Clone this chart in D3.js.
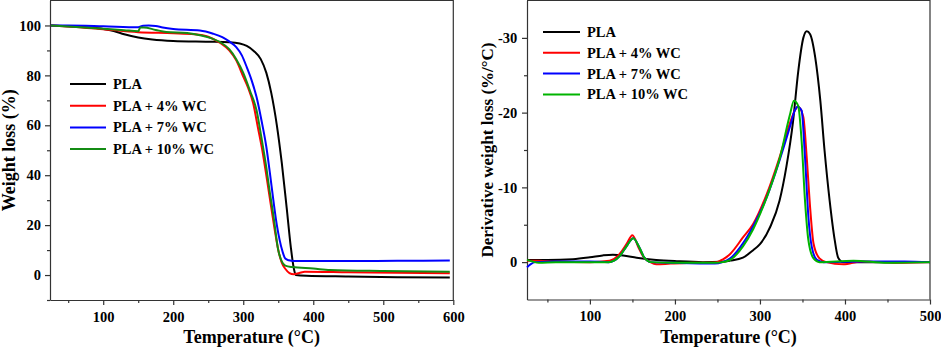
<!DOCTYPE html>
<html>
<head>
<meta charset="utf-8">
<script src="https://cdn.jsdelivr.net/npm/d3@7"></script>
<style>
  body { margin: 0; background: #fff; }
  svg text { font-family: "Liberation Serif", "Times New Roman", serif; font-weight: bold; }
</style>
</head>
<body>
<div id="chart"></div>
<script>
// series names and colours
var seriesNames = ["PLA", "PLA + 4% WC", "PLA + 7% WC", "PLA + 10% WC"];
var tgaColors = ["#000000", "#ff0000", "#0000ff", "#148c14"];
var dtgColors = ["#000000", "#ff0000", "#0000ff", "#00b400"];

// TGA: temperature (°C) and weight loss (%)
var tgaPLA_T = [25, 50, 80, 100, 115, 130, 150, 170, 200, 250, 280, 295, 305, 315, 325, 333, 340, 348, 355, 362, 368, 372, 375, 390, 450, 520, 595];
var tgaPLA_W = [100, 99.7, 99.2, 98.6, 97.8, 96.5, 95.2, 94.4, 93.8, 93.5, 93.3, 92.8, 91.8, 89.8, 86.5, 81, 73, 60, 45, 27, 11, 3, 0, -0.3, -0.6, -0.9, -1];

var tga4_T = [25, 50, 100, 150, 200, 230, 250, 267, 280, 290, 300, 307, 314, 321, 328, 334, 340, 345, 350, 355, 360, 366, 372, 380, 388, 450, 520, 595];
var tga4_W = [100, 99.6, 98.5, 97.3, 96.9, 96.5, 95.5, 93, 90, 86, 79.5, 75, 69, 59, 48.7, 38, 27, 18, 10, 5, 2.5, 0.8, 0.3, 0.8, 1.3, 1.1, 0.9, 0.7];

var tga7_T = [25, 50, 100, 150, 157, 165, 175, 185, 200, 238, 257, 270, 280, 290, 298, 305, 312, 319, 326, 333, 338, 343, 348, 352, 356, 360, 365, 372, 450, 520, 595];
var tga7_W = [100, 100, 99.7, 99.3, 99.9, 100, 99.8, 99.2, 98.6, 98, 96.7, 95.3, 93.6, 91.3, 88, 83.3, 78, 71.3, 62, 51.3, 41, 30, 20, 14, 9.5, 6.6, 5.9, 5.6, 5.6, 5.7, 5.8];

var tga10_T = [25, 50, 100, 130, 150, 153, 158, 175, 190, 220, 240, 255, 267, 280, 290, 300, 310, 319, 326, 333, 338, 343, 350, 355, 360, 370, 400, 424, 500, 595];
var tga10_W = [100, 99.6, 98.7, 98.1, 97.7, 99.2, 99.2, 98.2, 97.4, 97, 96, 94.8, 93.3, 90.5, 86.5, 81, 73.5, 66, 55, 43, 33, 24, 10, 5.5, 3.8, 3.2, 2.6, 2, 1.6, 1.3];

// DTG: temperature (°C) and derivative weight loss (%/°C)
var dtgPLA_T = [26, 50, 80, 100, 115, 127, 139, 155, 178, 202, 233, 255, 265, 280, 292, 300, 312, 323, 331, 339, 345, 351, 355, 359, 365, 371, 376, 382, 388, 392, 398, 420, 460, 500];
var dtgPLA_D = [-0.3, -0.3, -0.4, -0.65, -0.9, -1.0, -0.9, -0.6, -0.3, -0.13, 0, -0.05, -0.2, -0.6, -1.6, -2.4, -4.7, -8.2, -12.7, -18.9, -25.5, -30, -30.9, -30.5, -27.4, -21.6, -14.9, -8.2, -2.9, -0.6, 0, 0, 0, 0];

var dtg4_T = [26, 40, 60, 100, 123, 135, 143, 150, 157, 163, 171, 178, 195, 220, 249, 257, 265, 280, 292, 308, 323, 335, 341, 345, 351, 355, 359, 363, 370, 378, 398, 420, 460, 500];
var dtg4_D = [-0.2, -0.2, -0.05, 0, -0.2, -1.1, -2.4, -3.6, -2.0, -0.7, 0, 0.3, 0.2, 0.1, 0, -0.4, -1.1, -3.3, -5.1, -9.1, -14, -18.5, -20.3, -20.8, -19.4, -14, -7.3, -2.5, -0.5, 0, 0.3, -0.1, 0.1, 0];

var dtg7_T = [26, 30, 36, 60, 100, 122, 135, 143, 151, 158, 164, 172, 200, 247, 256, 265, 280, 292, 308, 323, 335, 341, 344, 349, 353, 357, 361, 367, 375, 420, 470, 500];
var dtg7_D = [0.7, 0.3, 0, -0.1, -0.1, 0, -0.8, -2.1, -3.2, -2.0, -0.6, 0, 0.1, 0.2, 0, -0.5, -2.5, -4.8, -8.7, -13.6, -18, -20.3, -20.8, -20.3, -14, -6, -2, -0.3, 0, -0.1, -0.1, 0];

var dtg10_T = [26, 32, 40, 60, 100, 122, 135, 143, 151, 158, 164, 172, 200, 247, 256, 265, 280, 292, 308, 323.5, 335, 340, 345, 349, 353, 357, 363, 370, 410, 450, 500];
var dtg10_D = [-0.3, -0.1, 0.1, 0, 0, 0, -0.8, -2.1, -3.2, -2.0, -0.6, 0, 0.1, 0.1, 0, -0.3, -2.1, -4.4, -8.7, -14, -19.6, -21.6, -20.9, -16.2, -8.2, -2.9, -0.5, 0, -0.2, 0.1, 0];

// tick values
var tgaXTicks = [100, 200, 300, 400, 500, 600];
var tgaXMinor = [50, 150, 250, 350, 450, 550];
var tgaYTicks = [0, 20, 40, 60, 80, 100];
var tgaYMinor = [-10, 10, 30, 50, 70, 90];
var dtgXTicks = [100, 200, 300, 400, 500];
var dtgXMinor = [50, 150, 250, 350, 450];
var dtgYTicks = [-30, -20, -10, 0];
var dtgYMinor = [-25, -15, -5];

function zip(t, v) {
  return t.map(function (d, i) { return {t: d, v: v[i]}; });
}

var svg = d3.select("#chart").append("svg")
    .attr("width", 941)
    .attr("height", 347);

function drawPanel(opt) {
  var g = svg.append("g").attr("transform", "translate(" + opt.left + ",0.5)");
  var w = opt.width, h = opt.height;

  var x = d3.scaleLinear().domain(opt.xDomain).range([0, w]);
  var y = d3.scaleLinear().domain(opt.yDomain).range([h, 0]);

  // frame (top and right)
  g.append("path")
    .attr("d", "M0,0H" + w + "V" + h)
    .attr("fill", "none")
    .attr("stroke", "#333")
    .attr("stroke-width", 1.2);

  // minor ticks
  g.append("g")
    .attr("transform", "translate(0," + h + ")")
    .call(d3.axisBottom(x).tickValues(opt.xMinor).tickSize(3).tickFormat(""))
    .call(function (a) { a.select(".domain").remove(); });
  g.append("g")
    .call(d3.axisLeft(y).tickValues(opt.yMinor).tickSize(3).tickFormat(""))
    .call(function (a) { a.select(".domain").remove(); });

  // major axes
  var xa = g.append("g")
    .attr("transform", "translate(0," + h + ")")
    .call(d3.axisBottom(x).tickValues(opt.xTicks).tickSize(5).tickSizeOuter(0)
      .tickPadding(6.5).tickFormat(function (d) { return String(d); }));
  var ya = g.append("g")
    .call(d3.axisLeft(y).tickValues(opt.yTicks).tickSize(5).tickSizeOuter(0)
      .tickPadding(opt.yPad).tickFormat(function (d) { return String(d); }));

  [xa, ya].forEach(function (a) {
    a.selectAll("text").attr("font-size", "14.5px").attr("fill", "#000")
      .style("font-family", "'Liberation Serif', serif");
  });
  g.selectAll(".domain, .tick line").attr("stroke", "#333").attr("stroke-width", 1.2);

  // axis titles
  g.append("text")
    .attr("x", w / 2)
    .attr("y", 342)
    .attr("text-anchor", "middle")
    .attr("font-size", "18px")
    .text("Temperature (\u00B0C)");

  g.append("text")
    .attr("transform", "translate(" + opt.yTitleX + "," + (h / 2) + ") rotate(-90)")
    .attr("text-anchor", "middle")
    .attr("font-size", opt.yTitleSize)
    .text(opt.yTitle);

  // lines
  var line = d3.line()
    .curve(d3.curveMonotoneX)
    .x(function (d) { return x(d.t); })
    .y(function (d) { return y(d.v); });

  opt.series.forEach(function (s, i) {
    g.append("path")
      .datum(s)
      .attr("fill", "none")
      .attr("stroke", opt.colors[i])
      .attr("stroke-width", 2)
      .attr("stroke-linejoin", "round")
      .attr("d", line);
  });

  // legend
  var leg = g.selectAll(".legend").data(seriesNames)
    .enter().append("g")
      .attr("transform", function (d, i) {
        return "translate(" + opt.legX + "," + (opt.legY + i * opt.legStep) + ")";
      });
  leg.append("line")
    .attr("x1", 0).attr("x2", opt.legLen)
    .attr("y1", 0).attr("y2", 0)
    .attr("stroke", function (d, i) { return opt.colors[i]; })
    .attr("stroke-width", 2);
  leg.append("text")
    .attr("x", opt.legLen + 7)
    .attr("y", 5)
    .attr("font-size", "14.5px")
    .text(function (d) { return d; });
}

drawPanel({
  left: 50, width: 403.3, height: 299.5,
  xDomain: [24, 600], yDomain: [-10, 110],
  xTicks: tgaXTicks, xMinor: tgaXMinor, yTicks: tgaYTicks, yMinor: tgaYMinor,
  yPad: 4, yTitle: "Weight loss (%)", yTitleX: -35, yTitleSize: "18px",
  colors: tgaColors,
  series: [zip(tgaPLA_T, tgaPLA_W), zip(tga4_T, tga4_W), zip(tga7_T, tga7_W), zip(tga10_T, tga10_W)],
  legX: 20, legY: 83.5, legStep: 21.7, legLen: 36
});

drawPanel({
  left: 527, width: 403, height: 299,
  xDomain: [26, 500], yDomain: [5, -35],
  xTicks: dtgXTicks, xMinor: dtgXMinor, yTicks: dtgYTicks, yMinor: dtgYMinor,
  yPad: 4.7, yTitle: "Derivative weight loss (%/\u00B0C)", yTitleX: -34, yTitleSize: "17px",
  colors: dtgColors,
  series: [zip(dtgPLA_T, dtgPLA_D), zip(dtg4_T, dtg4_D), zip(dtg7_T, dtg7_D), zip(dtg10_T, dtg10_D)],
  legX: 16, legY: 31.5, legStep: 20.8, legLen: 37
});
</script>
</body>
</html>
